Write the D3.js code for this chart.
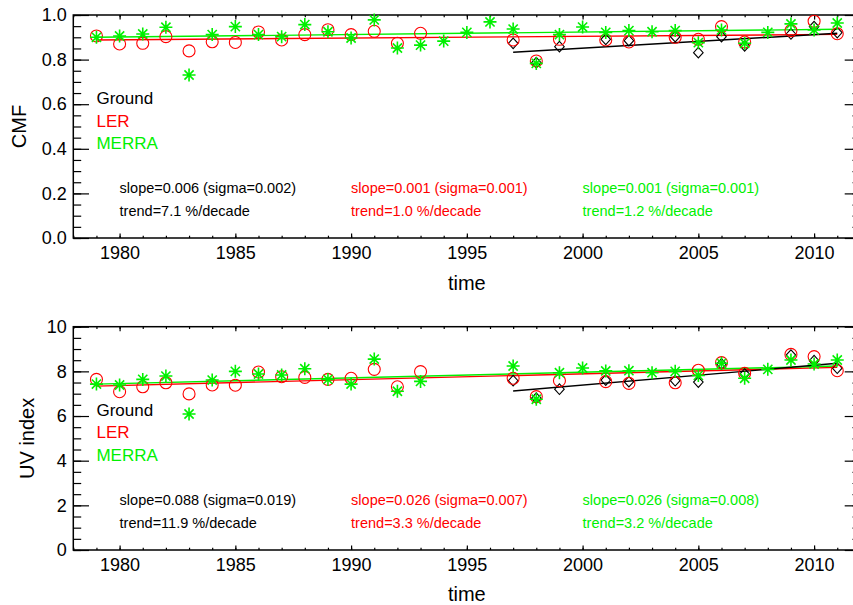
<!DOCTYPE html>
<html><head><meta charset="utf-8">
<script src="https://cdnjs.cloudflare.com/ajax/libs/d3/7.8.5/d3.min.js"></script>
<style>
body{margin:0;background:#fff;}
svg{display:block;font-family:"Liberation Sans",Arial,Helvetica,sans-serif;}
</style></head><body>
<svg id="chart" width="853" height="605"></svg>
<script>
// ---------- DATA ----------
const years = d3.range(1979, 2012);
const cmfLER   = [0.906,0.870,0.873,0.903,0.839,0.880,0.877,0.924,0.888,0.912,0.934,0.912,0.927,0.873,0.918,null,null,null,0.888,0.794,0.891,null,0.888,0.879,null,0.900,0.891,0.948,0.879,null,0.930,0.972,0.916];
const cmfMERRA = [0.900,0.906,0.915,0.945,0.731,0.912,0.948,0.912,0.903,0.957,0.925,0.897,0.978,0.852,0.865,0.883,0.922,0.969,0.937,0.783,0.912,0.946,0.922,0.930,0.925,0.930,0.876,0.933,0.873,0.922,0.960,0.933,0.964];
const cmfGround= [null,null,null,null,null,null,null,null,null,null,null,null,null,null,null,null,null,null,0.873,0.786,0.858,null,0.891,0.885,null,0.903,0.831,0.903,0.862,null,0.915,0.948,0.921];
const uvLER    = [7.64,7.09,7.31,7.49,6.99,7.39,7.38,7.97,7.76,7.73,7.64,7.69,8.09,7.31,7.99,null,null,null,7.69,6.87,7.58,null,7.54,7.46,null,7.49,8.05,8.39,7.91,null,8.76,8.66,8.03];
const uvMERRA  = [7.43,7.39,7.64,7.79,6.09,7.61,8.00,7.88,7.84,8.12,7.64,7.43,8.55,7.11,7.55,null,null,null,8.24,6.75,7.94,8.15,8.02,8.03,7.94,8.00,7.82,8.36,7.69,8.09,8.51,8.33,8.51];
const uvGround = [null,null,null,null,null,null,null,null,null,null,null,null,null,null,null,null,null,null,7.58,6.80,7.20,null,7.61,7.54,null,7.58,7.52,8.33,7.88,null,8.73,8.48,8.14];

// trend lines: [startYear, startValue, endYear, endValue]
const cmfTrendGround = [1997,0.833,2011,0.918];
const cmfTrendLER    = [1979,0.888,2011,0.913];
const cmfTrendMERRA  = [1979,0.900,2011,0.936];
const uvTrendGround  = [1997,7.12,2011,8.36];
const uvTrendLER     = [1979,7.34,2011,8.18];
const uvTrendMERRA   = [1979,7.43,2011,8.24];

const seriesNames = ["Ground","LER","MERRA"];
const cmfStats = [["slope=0.006 (sigma=0.002)","trend=7.1 %/decade"],["slope=0.001 (sigma=0.001)","trend=1.0 %/decade"],["slope=0.001 (sigma=0.001)","trend=1.2 %/decade"]];
const uvStats  = [["slope=0.088 (sigma=0.019)","trend=11.9 %/decade"],["slope=0.026 (sigma=0.007)","trend=3.3 %/decade"],["slope=0.026 (sigma=0.008)","trend=3.2 %/decade"]];
const statsX = [1980, 1990, 2000];
const xMajor = d3.range(1980, 2011, 5);
const xMinor = d3.range(1978, 2013, 1);
const cmfMajor = [0,0.2,0.4,0.6,0.8,1.0];
const cmfMinor = d3.range(0, 21).map(i => i*0.05);
const uvMajor = [0,2,4,6,8,10];
const uvMinor = d3.range(0, 21).map(i => i*0.5);

// ---------- DRAW ----------
const colors = {Ground:"#000000", LER:"#ff0000", MERRA:"#00f000"};
const svg = d3.select("#chart");
const x = d3.scaleLinear().domain([1978, 2012]).range([73.3, 860.4]);

function panel(cfg){
  const y = d3.scaleLinear().domain(cfg.domain).range(cfg.range);
  const g = svg.append("g");
  const top = cfg.range[1], bot = cfg.range[0];
  const L = x.range()[0], R = x.range()[1];
  const styleAxis = sel => { sel.select(".domain").remove(); sel.selectAll("line").attr("stroke","#000").attr("stroke-width",1.2); };

  // minor ticks
  g.append("g").attr("transform",`translate(0,${bot})`).call(d3.axisBottom(x).tickValues(xMinor).tickSize(-2.3).tickFormat("")).call(styleAxis);
  g.append("g").attr("transform",`translate(0,${top})`).call(d3.axisTop(x).tickValues(xMinor).tickSize(-2.3).tickFormat("")).call(styleAxis);
  g.append("g").attr("transform",`translate(${L},0)`).call(d3.axisLeft(y).tickValues(cfg.minor).tickSize(-7.9).tickFormat("")).call(styleAxis);
  g.append("g").attr("transform",`translate(${R},0)`).call(d3.axisRight(y).tickValues(cfg.minor).tickSize(-7.9).tickFormat("")).call(styleAxis);
  // major ticks
  g.append("g").attr("transform",`translate(0,${bot})`).call(d3.axisBottom(x).tickValues(xMajor).tickSize(-4.6).tickPadding(8).tickFormat(d3.format("d"))).call(styleAxis);
  g.append("g").attr("transform",`translate(0,${top})`).call(d3.axisTop(x).tickValues(xMajor).tickSize(-4.6).tickFormat("")).call(styleAxis);
  g.append("g").attr("transform",`translate(${L},0)`).call(d3.axisLeft(y).tickValues(cfg.major).tickSize(-15.7).tickPadding(6.6).tickFormat(cfg.fmt)).call(styleAxis);
  g.append("g").attr("transform",`translate(${R},0)`).call(d3.axisRight(y).tickValues(cfg.major).tickSize(-15.7).tickFormat("")).call(styleAxis);
  g.selectAll("text").attr("font-family",null).attr("font-size",18).attr("fill","#000");
  // frame
  g.append("rect").attr("x",L).attr("y",top).attr("width",R-L).attr("height",bot-top).attr("fill","none").attr("stroke","#000").attr("stroke-width",1.5);

  // titles
  g.append("text").attr("x",(L+R)/2).attr("y",cfg.xTitleY).attr("text-anchor","middle").attr("font-size",20).text("time");
  g.append("text").attr("transform",`translate(${cfg.yTitleX},${(top+bot)/2}) rotate(-90)`).attr("text-anchor","middle").attr("font-size",20).text(cfg.yTitle);

  // trend lines
  const trends = [["LER",cfg.tLER],["MERRA",cfg.tMERRA],["Ground",cfg.tGround]];
  trends.forEach(([n,t]) => {
    g.append("line").attr("x1",x(t[0])).attr("y1",y(t[1])).attr("x2",x(t[2])).attr("y2",y(t[3]))
      .attr("stroke",colors[n]).attr("stroke-width",1.4);
  });

  // markers
  const pts = arr => years.map((yr,i)=>({yr, v:arr[i]})).filter(d => d.v !== null);
  g.append("g").selectAll("path").data(pts(cfg.ground)).join("path")
    .attr("transform", d => `translate(${x(d.yr)},${y(d.v)})`)
    .attr("d","M0,-5.3L4.8,0L0,5.3L-4.8,0Z").attr("fill","none").attr("stroke",colors.Ground).attr("stroke-width",1.1);
  g.append("g").selectAll("circle").data(pts(cfg.ler)).join("circle")
    .attr("cx", d => x(d.yr)).attr("cy", d => y(d.v)).attr("r",6)
    .attr("fill","none").attr("stroke",colors.LER).attr("stroke-width",1.1);
  g.append("g").selectAll("path").data(pts(cfg.merra)).join("path")
    .attr("transform", d => `translate(${x(d.yr)},${y(d.v)})`)
    .attr("d","M0,-6.5V6.5M-6.5,0H6.5M-4.6,-4.6L4.6,4.6M-4.6,4.6L4.6,-4.6")
    .attr("fill","none").attr("stroke",colors.MERRA).attr("stroke-width",1.6);

  // legend
  seriesNames.forEach((n,i) => {
    g.append("text").attr("x",x(1979)).attr("y",y(cfg.legendY[i])).attr("font-size",17).attr("fill",colors[n]).text(n);
  });
  // stats
  cfg.stats.forEach((s,i) => {
    const c = colors[seriesNames[i]];
    g.append("text").attr("x",x(statsX[i])).attr("y",y(cfg.statsY[0])).attr("font-size",14.5).attr("fill",c).text(s[0]);
    g.append("text").attr("x",x(statsX[i])).attr("y",y(cfg.statsY[1])).attr("font-size",14.5).attr("fill",c).text(s[1]);
  });
}

panel({domain:[0,1], range:[238,15], major:cmfMajor, minor:cmfMinor, fmt:d3.format(".1f"),
  yTitle:"CMF", yTitleX:26, xTitleY:290,
  ler:cmfLER, merra:cmfMERRA, ground:cmfGround,
  tLER:cmfTrendLER, tMERRA:cmfTrendMERRA, tGround:cmfTrendGround,
  legendY:[0.6,0.5,0.4], stats:cmfStats, statsY:[0.2,0.1]});
panel({domain:[0,10], range:[550,326.7], major:uvMajor, minor:uvMinor, fmt:d3.format("d"),
  yTitle:"UV index", yTitleX:34, xTitleY:601,
  ler:uvLER, merra:uvMERRA, ground:uvGround,
  tLER:uvTrendLER, tMERRA:uvTrendMERRA, tGround:uvTrendGround,
  legendY:[6,5,4], stats:uvStats, statsY:[2,1]});
</script>
</body></html>
